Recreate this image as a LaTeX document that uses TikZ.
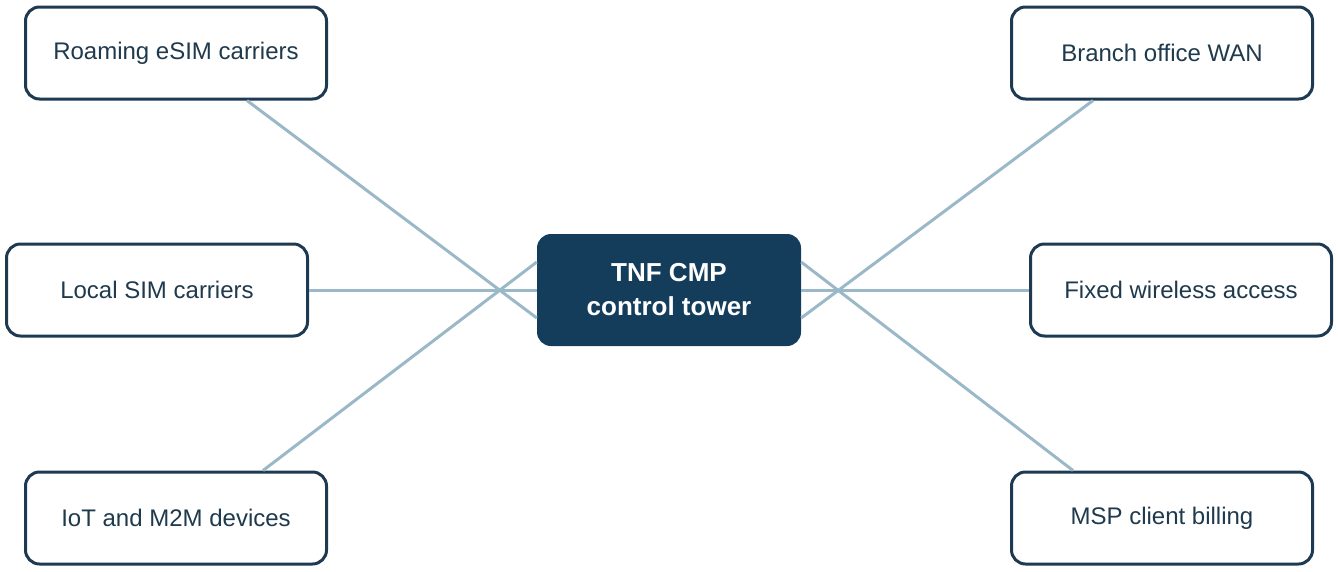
\documentclass[tikz,border=0pt]{standalone}
\usepackage{fontspec}
\setmainfont{Liberation Sans}
\usetikzlibrary{calc}
\definecolor{navy}{HTML}{143D5C}
\definecolor{edge}{HTML}{1E3A52}
\definecolor{txt}{HTML}{1F3A4D}
\definecolor{link}{HTML}{9BB8C8}
\begin{document}
\begin{tikzpicture}[x=1pt,y=-1pt,
  box/.style={draw=edge,line width=3pt,rounded corners=14pt,minimum width=301pt,minimum height=92pt,fill=white,text=txt,font=\fontsize{24}{29}\selectfont},
  hub/.style={fill=navy,rounded corners=14pt,minimum width=264pt,minimum height=112pt,text=white,align=center,font=\fontsize{26}{34}\selectfont\bfseries},
  con/.style={draw=link,line width=3pt}]
\useasboundingbox (0,0) rectangle (1338,571);
\node[hub] (c) at (669,290) {TNF CMP\\control tower};
\node[box] (a) at (176,53) {Roaming eSIM carriers};
\node[box] (b) at (157,290) {Local SIM carriers};
\node[box] (d) at (176,518) {IoT and M2M devices};
\node[box] (e) at (1162,53) {Branch office WAN};
\node[box] (f) at (1181,290) {Fixed wireless access};
\node[box] (g) at (1162,518) {MSP client billing};
\begin{scope}[on background layer/.try]
\end{scope}
\draw[con] ([xshift=71pt]a.south) -- ([yshift=-28pt]c.west);
\draw[con] (b.east) -- (c.west);
\draw[con] ([xshift=87pt]d.north) -- ([yshift=28pt]c.west);
\draw[con] ([xshift=-69pt]e.south) -- ([yshift=-28pt]c.east);
\draw[con] (f.west) -- (c.east);
\draw[con] ([xshift=-89pt]g.north) -- ([yshift=28pt]c.east);
\end{tikzpicture}
\end{document}
